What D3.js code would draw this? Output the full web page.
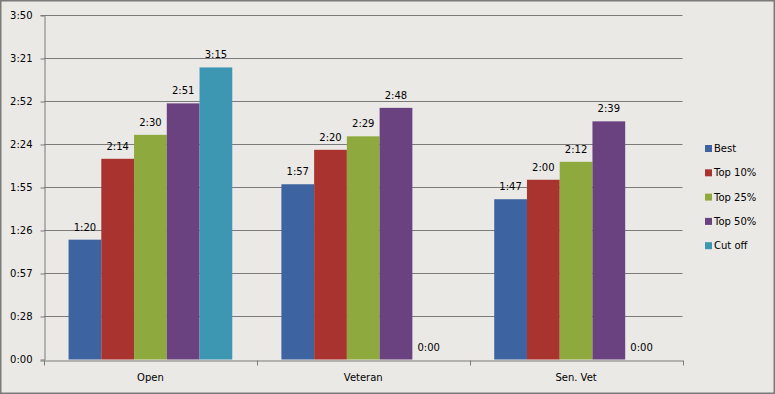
<!DOCTYPE html>
<html>
<head>
<meta charset="utf-8">
<script src="https://cdn.jsdelivr.net/npm/d3@7"></script>
<style>
  html, body { margin: 0; padding: 0; background: #ebe9e6; }
  svg { display: block; }
  text { font-family: "DejaVu Sans", Verdana, sans-serif; font-size: 10px; fill: #000; }
</style>
</head>
<body>
<svg id="chart" width="775" height="394"></svg>
<script>
// ---- data (values in seconds-like units, shown as m:ss) ----
const categories = ["Open", "Veteran", "Sen. Vet"];
const seriesNames = ["Best", "Top 10%", "Top 25%", "Top 50%", "Cut off"];
const best   = [80, 117, 107];
const top10  = [134, 140, 120];
const top25  = [150, 149, 132];
const top50  = [171, 168, 159];
const cutoff = [195, 0, 0];
const yMax = 230;
const tickLabels = ["0:00", "0:28", "0:57", "1:26", "1:55", "2:24", "2:52", "3:21", "3:50"];
const colors = ["#3e63a1", "#a9332f", "#8eaa3e", "#6a4280", "#3d97b3"];

const seriesValues = [best, top10, top25, top50, cutoff];

const svg = d3.select("#chart");
const W = 775, H = 394;
const margin = { left: 44, right: W - 682.5, top: 15, bottom: H - 359.5 };

svg.append("rect")
  .attr("x", 0.75).attr("y", 0.75)
  .attr("width", W - 1.5).attr("height", H - 1.5)
  .attr("fill", "#ebe9e6").attr("stroke", "#7a7a7a").attr("stroke-width", 1.5);

const x0 = d3.scaleBand().domain(categories)
  .range([margin.left, W - margin.right]).paddingInner(0).paddingOuter(0);
const bandW = x0.bandwidth();
const barW = bandW / (seriesNames.length + 1.5);
const x1 = d3.scaleBand().domain(seriesNames)
  .range([barW * 0.75, barW * 0.75 + barW * seriesNames.length]).padding(0);

const y = d3.scaleLinear().domain([0, yMax]).range([H - margin.bottom, margin.top]);
const tickVals = tickLabels.map((_, i) => i * yMax / (tickLabels.length - 1));

// gridlines
svg.append("g")
  .selectAll("line").data(tickVals.slice(1)).join("line")
  .attr("x1", margin.left).attr("x2", W - margin.right)
  .attr("y1", d => Math.round(y(d)) + 0.5).attr("y2", d => Math.round(y(d)) + 0.5)
  .attr("stroke", "#7b7b7b").attr("stroke-width", 1);

// y axis
const yAxis = d3.axisLeft(y).tickValues(tickVals)
  .tickFormat((d, i) => tickLabels[i]).tickSize(4).tickPadding(8);
const gy = svg.append("g").attr("transform", `translate(${margin.left + 0.5},0)`).call(yAxis);
gy.select(".domain").attr("stroke", "#7b7b7b");
gy.selectAll(".tick line").attr("stroke", "#7b7b7b")
  .attr("transform", d => `translate(0,${Math.round(y(d)) + 0.5 - y(d)})`);
gy.selectAll(".tick text").style("font-size", "10px").style("font-family", "DejaVu Sans, sans-serif");

// bars
const data = [];
categories.forEach((c, ci) => {
  seriesNames.forEach((s, si) => {
    data.push({ cat: c, ser: s, si, v: seriesValues[si][ci] });
  });
});

const fmt = v => Math.floor(v / 60) + ":" + String(Math.round(v % 60)).padStart(2, "0");

const gBars = svg.append("g");
gBars.selectAll("rect").data(data.filter(d => d.v > 0)).join("rect")
  .attr("x", d => x0(d.cat) + x1(d.ser))
  .attr("width", x1.bandwidth())
  .attr("y", d => y(d.v))
  .attr("height", d => y(0) - y(d.v))
  .attr("fill", d => colors[d.si]);

gBars.selectAll("text").data(data).join("text")
  .attr("x", d => x0(d.cat) + x1(d.ser) + x1.bandwidth() / 2)
  .attr("y", d => y(d.v) - 9)
  .attr("text-anchor", "middle")
  .text(d => fmt(d.v));

// x axis
const xAxis = d3.axisBottom(x0).tickSize(0).tickPadding(13);
const gx = svg.append("g").attr("transform", `translate(0,${Math.round(y(0)) + 0.5})`).call(xAxis);
gx.select(".domain").attr("stroke", "#7b7b7b");
gx.selectAll(".tick text").style("font-size", "10px").style("font-family", "DejaVu Sans, sans-serif");
// category boundary ticks
const bounds = categories.map(c => x0(c)).concat([W - margin.right]);
gx.append("g").selectAll("line").data(bounds).join("line")
  .attr("x1", d => Math.round(d) + 0.5).attr("x2", d => Math.round(d) + 0.5)
  .attr("y1", 0).attr("y2", 5).attr("stroke", "#7b7b7b");

// legend
const lg = svg.append("g").attr("transform", "translate(705,145)");
const row = lg.selectAll("g").data(seriesNames).join("g")
  .attr("transform", (d, i) => `translate(0,${i * 24.3})`);
row.append("rect").attr("width", 7).attr("height", 7).attr("fill", (d, i) => colors[i]);
row.append("text").attr("x", 9).attr("y", 7).text(d => d);
</script>
</body>
</html>
